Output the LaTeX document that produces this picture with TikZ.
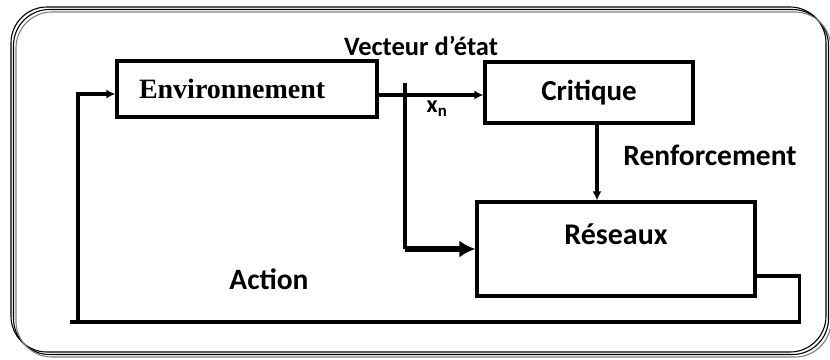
\documentclass[tikz,border=0pt]{standalone}
\usepackage{fontspec}
\setmainfont{Liberation Serif}
\newfontfamily\labelfont{Carlito}
\usetikzlibrary{arrows.meta,positioning}

\tikzset{
  bloc/.style={draw, line width=3.2pt, rectangle, inner sep=0pt},
  lbl/.style={font=\labelfont\bfseries\fontsize{#1}{#1}\selectfont},
  lbl/.default=26,
  fil/.style={line width=3.2pt},
  sig/.style={fil, -{Latex[length=9pt,width=9pt]}},
  grosse/.style={line width=5.5pt, -{Latex[length=16pt,width=17pt]}},
}

\begin{document}
\begin{tikzpicture}[x=1pt,y=-1pt]
\useasboundingbox (0,0) rectangle (830,359);
%cadre (trois traits decales)
\foreach \d/\c in {0/black, 2.5/black, 5/gray}{
   \draw[\c, line width=1.1pt, rounded corners=36pt] (11+\d,7+\d) rectangle (826+\d,352+\d);
}
%blocs
\node[bloc, minimum height=56, text width=216pt, align=left, inner xsep=22pt] (env) at (247,89) {\bfseries\fontsize{28}{30}\selectfont Environnement};
\node[bloc, lbl=29, minimum width=208, minimum height=61] (crit) at (589,92.5) {Critique};
\node[bloc, lbl=30, minimum width=278, minimum height=94, text depth=29pt] (res) at (616,249) {Réseaux};
%textes
\node[lbl=26.5] (vec) at (421,46) {Vecteur d’état};
\node[lbl=24] (xn) at (437,109) {x\textsubscript{n}};
\node[lbl=29.5] (renf) at (710,155) {Renforcement};
\node[lbl=29.5] (act) at (269,279) {Action};
%liaisons
\coordinate (bif) at (405,83);
\coordinate (bg) at (70,322);
\coordinate (bgv) at (78,322);
\draw[sig] ([yshift=-6pt]env.east) -- ([yshift=-6pt]env.east -| crit.west);
\draw[fil] (bif) -- (bif |- res.west);
\draw[grosse] (bif |- res.west) -- (res.west);
\draw[sig] ([xshift=8pt]crit.south) -- ([xshift=8pt]crit.south |- res.north);
% retour action
\draw[fil] ([yshift=-27pt]res.east) -- ++(43,0) |- (bg);
\draw[sig] (bgv) |- ([yshift=-5pt]env.west);
\end{tikzpicture}
\end{document}
